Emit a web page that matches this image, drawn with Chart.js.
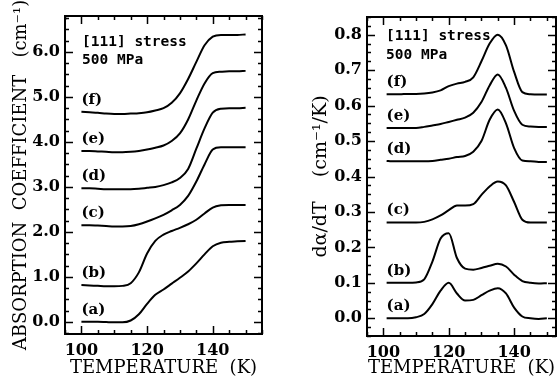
<!DOCTYPE html>
<html>
<head>
<meta charset="utf-8">
<script src="https://cdn.jsdelivr.net/npm/chart.js@4/dist/chart.umd.min.js"></script>
<style>
  body { margin: 0; background: #fff; }
  #wrap { position: relative; width: 560px; height: 379px; }
  canvas { position: absolute; top: 0; }
</style>
</head>
<body>
<div id="wrap">
  <canvas id="absChart" width="280" height="379" style="left:0"></canvas>
  <canvas id="derivChart" width="280" height="379" style="left:280px"></canvas>
</div>
<script>
// Datos
const curveNames = ['(a)', '(b)', '(c)', '(d)', '(e)', '(f)'];
const xTickLabels = [100, 120, 140];

// Panel izquierdo: coeficiente de absorcion (cm-1)
const absTemps = [100, 102.5, 105, 107.5, 110, 112.5, 115, 117.5, 120, 122.5, 125, 127.5, 130, 132.5, 135, 137.5, 140, 142.5, 145, 147.5, 150];
const absA = [0.0, 0.0, 0.0, -0.005, -0.01, -0.01, 0.03, 0.17, 0.4, 0.6, 0.72, 0.85, 0.98, 1.12, 1.3, 1.5, 1.68, 1.76, 1.78, 1.79, 1.8];
const absB = [0.82, 0.81, 0.8, 0.79, 0.79, 0.8, 0.86, 1.1, 1.52, 1.8, 1.94, 2.02, 2.09, 2.17, 2.27, 2.41, 2.54, 2.59, 2.6, 2.6, 2.6];
const absC = [2.15, 2.15, 2.14, 2.13, 2.12, 2.12, 2.13, 2.17, 2.23, 2.3, 2.38, 2.48, 2.6, 2.8, 3.12, 3.5, 3.83, 3.88, 3.88, 3.88, 3.88];
const absD = [2.97, 2.97, 2.96, 2.95, 2.95, 2.95, 2.95, 2.96, 2.98, 3.0, 3.04, 3.1, 3.2, 3.4, 3.85, 4.3, 4.65, 4.74, 4.75, 4.75, 4.76];
const absE = [3.8, 3.8, 3.79, 3.78, 3.77, 3.77, 3.78, 3.8, 3.83, 3.87, 3.92, 4.02, 4.19, 4.5, 4.92, 5.3, 5.53, 5.56, 5.57, 5.57, 5.58];
const absF = [4.67, 4.66, 4.65, 4.63, 4.62, 4.62, 4.63, 4.64, 4.66, 4.7, 4.75, 4.87, 5.08, 5.4, 5.78, 6.15, 6.34, 6.38, 6.38, 6.38, 6.39];
const absYTicks = [0, 1, 2, 3, 4, 5, 6];

// Panel derecho: d(alpha)/dT (cm-1/K)
const derivTemps = [101, 102.5, 105, 107.5, 110, 112.5, 115, 117.5, 120, 122.5, 125, 127.5, 130, 132.5, 135, 137.5, 140, 142.5, 145, 147.5, 150];
const derivA = [0, 0, 0, 0, 0.003, 0.012, 0.04, 0.078, 0.1, 0.07, 0.05, 0.052, 0.065, 0.078, 0.085, 0.07, 0.03, 0.005, 0, -0.002, 0];
const derivB = [0.1, 0.1, 0.1, 0.1, 0.101, 0.11, 0.16, 0.225, 0.24, 0.17, 0.14, 0.137, 0.142, 0.148, 0.154, 0.146, 0.123, 0.105, 0.1, 0.098, 0.099];
const derivC = [0.27, 0.27, 0.27, 0.27, 0.27, 0.272, 0.279, 0.29, 0.305, 0.318, 0.318, 0.322, 0.348, 0.372, 0.386, 0.375, 0.328, 0.278, 0.27, 0.27, 0.27];
const derivD = [0.444, 0.443, 0.443, 0.443, 0.443, 0.443, 0.444, 0.447, 0.45, 0.455, 0.458, 0.47, 0.5, 0.56, 0.589, 0.55, 0.48, 0.445, 0.443, 0.441, 0.441];
const derivE = [0.537, 0.537, 0.537, 0.537, 0.537, 0.54, 0.544, 0.548, 0.554, 0.56, 0.566, 0.58, 0.61, 0.657, 0.688, 0.65, 0.585, 0.546, 0.541, 0.54, 0.54];
const derivF = [0.632, 0.632, 0.632, 0.633, 0.633, 0.634, 0.637, 0.643, 0.655, 0.662, 0.667, 0.68, 0.725, 0.775, 0.8, 0.77, 0.695, 0.638, 0.632, 0.631, 0.631];
const derivYTicks = [0, 0.1, 0.2, 0.3, 0.4, 0.5, 0.6, 0.7, 0.8];

const noteLines = ['[111] stress', '500 MPa'];

const serif = 'DejaVu Serif';

// Marco con marcas hacia dentro + textos
const framePlugin = {
    id: 'frame',
    afterDatasetsDraw(chart, args, opts) {
        const { ctx, chartArea: a, scales: { x, y } } = chart;
        ctx.save();
        ctx.strokeStyle = '#000';
        ctx.lineWidth = 1.5;

        const marks = (scale, step, majorStep, horiz) => {
            for (let i = Math.ceil(scale.min / step - 1e-9); i * step <= scale.max + 1e-9; i++) {
                const v = i * step;
                const major = Math.abs(v / majorStep - Math.round(v / majorStep)) < 1e-6;
                const len = major ? 8 : 4;
                const p = Math.round(scale.getPixelForValue(v)) + 0.5;
                ctx.beginPath();
                if (horiz) {
                    ctx.moveTo(p, a.bottom); ctx.lineTo(p, a.bottom - len);
                    ctx.moveTo(p, a.top); ctx.lineTo(p, a.top + len);
                } else {
                    ctx.moveTo(a.left, p); ctx.lineTo(a.left + len, p);
                    ctx.moveTo(a.right, p); ctx.lineTo(a.right - len, p);
                }
                ctx.stroke();
            }
        };
        marks(x, 5, 20, true);
        marks(y, opts.yMinor, opts.yMajor, false);

        ctx.lineWidth = 2;
        ctx.strokeRect(a.left, a.top, a.right - a.left, a.bottom - a.top);

        // "[111] stress / 500 MPa"
        ctx.fillStyle = '#000';
        ctx.font = 'bold 14.5px "DejaVu Sans Mono"';
        ctx.textAlign = 'left';
        ctx.textBaseline = 'middle';
        noteLines.forEach((t, i) => {
            ctx.fillText(t, a.left + opts.noteX, a.top + opts.noteY[i]);
        });

        // etiquetas (a)..(f)
        ctx.font = 'bold 15px "' + serif + '"';
        chart.data.datasets.forEach(ds => {
            const px = x.getPixelForValue(ds.data[0].x);
            const py = y.getPixelForValue(ds.data[0].y);
            ctx.fillText(ds.label, px, py - 12);
        });
        ctx.restore();
    }
};

function makeSets(temps, series) {
    return series.map((vals, i) => ({
        label: curveNames[i],
        data: vals.map((v, j) => ({ x: temps[j], y: v })),
        borderColor: '#000',
        borderWidth: 2,
        pointRadius: 0,
        fill: false,
        cubicInterpolationMode: 'monotone'
    }));
}

function makeChart(id, cfg) {
    const tickFont = { family: serif, size: 16, weight: 'bold' };
    const titleFont = { family: serif, size: 18, weight: 'normal', lineHeight: 1.2 };
    return new Chart(document.getElementById(id), {
        type: 'line',
        data: { datasets: makeSets(cfg.temps, cfg.series) },
        options: {
            responsive: false,
            animation: false,
            devicePixelRatio: 1,
            layout: { padding: { top: cfg.top, right: cfg.right, left: 0, bottom: 0 } },
            plugins: {
                legend: { display: false },
                tooltip: { enabled: false },
                frame: cfg.frame
            },
            scales: {
                x: {
                    type: 'linear',
                    min: cfg.xMin,
                    max: cfg.xMax,
                    grid: { display: false, drawTicks: false },
                    border: { display: false },
                    afterBuildTicks: s => { s.ticks = xTickLabels.map(v => ({ value: v })); },
                    afterFit: s => { s.height = cfg.xHeight; },
                    ticks: { font: tickFont, color: '#000', padding: 7, maxRotation: 0 },
                    title: { display: true, text: 'TEMPERATURE  (K)', font: titleFont, color: '#000', padding: 0 }
                },
                y: {
                    type: 'linear',
                    min: cfg.yMin,
                    max: cfg.yMax,
                    grid: { display: false, drawTicks: false },
                    border: { display: false },
                    afterBuildTicks: s => { s.ticks = cfg.yTicks.map(v => ({ value: v })); },
                    afterFit: s => { s.width = cfg.yWidth; },
                    ticks: { font: tickFont, color: '#000', padding: 5, callback: v => v.toFixed(1) },
                    title: { display: true, text: cfg.yTitle, font: { ...titleFont, size: cfg.yTitleSize }, color: '#000', padding: { top: cfg.yTitlePad, bottom: cfg.yTitlePad } }
                }
            }
        },
        plugins: [framePlugin]
    });
}

makeChart('absChart', {
    temps: absTemps,
    series: [absA, absB, absC, absD, absE, absF],
    xMin: 95, xMax: 155, yMin: -0.27, yMax: 6.8,
    yTicks: absYTicks,
    top: 16, right: 18, xHeight: 45, yWidth: 65, yTitlePad: 11, yTitleSize: 18,
    yTitle: 'ABSORPTION  COEFFICIENT   (cm\u207B\u00B9)',
    frame: { yMinor: 0.25, yMajor: 1, noteX: 17, noteY: [26, 44] }
});

makeChart('derivChart', {
    temps: derivTemps,
    series: [derivA, derivB, derivC, derivD, derivE, derivF],
    xMin: 95, xMax: 152.8, yMin: -0.05, yMax: 0.85,
    yTicks: derivYTicks,
    top: 17, right: 4, xHeight: 43, yWidth: 87, yTitlePad: 30, yTitleSize: 19,
    yTitle: 'd\u03B1/dT    (cm\u207B\u00B9/K)',
    frame: { yMinor: 0.025, yMajor: 0.1, noteX: 19, noteY: [19, 38] }
});
</script>
</body>
</html>
